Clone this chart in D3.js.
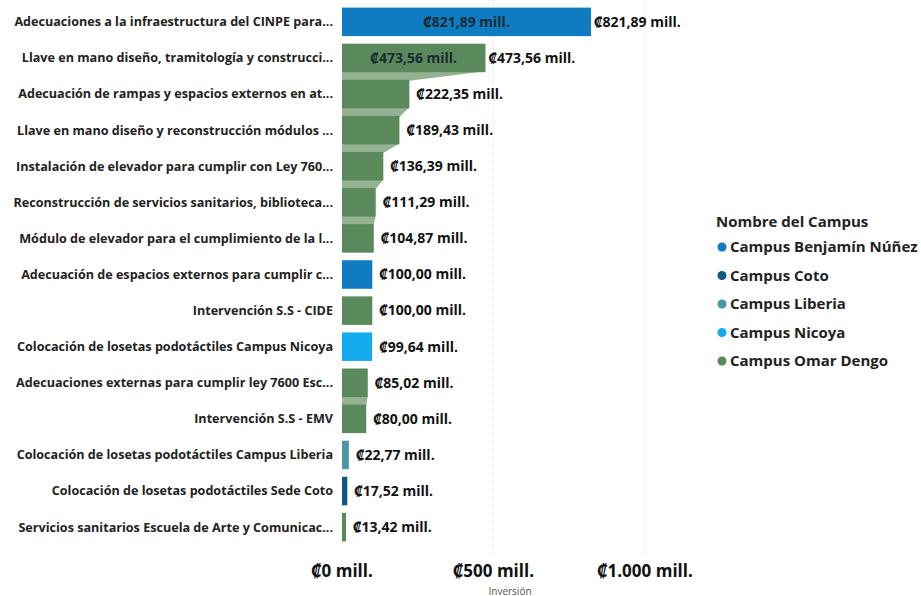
<html>
<head>
<script src="https://d3js.org/d3.v7.min.js"></script>
<style>
  body { margin: 0; background: white; }
  svg { font-family: "Open Sans", "Noto Sans", sans-serif; }
</style>
</head>
<body>
<svg width="921" height="596"></svg>
<script>
  // chart data
  var proyectos = [
    "Adecuaciones a la infraestructura del CINPE para...",
    "Llave en mano diseño, tramitología y construcci...",
    "Adecuación de rampas y espacios externos en at...",
    "Llave en mano diseño y reconstrucción módulos ...",
    "Instalación de elevador para cumplir con Ley 760...",
    "Reconstrucción de servicios sanitarios, biblioteca...",
    "Módulo de elevador para el cumplimiento de la l...",
    "Adecuación de espacios externos para cumplir c...",
    "Intervención S.S - CIDE",
    "Colocación de losetas podotáctiles Campus Nicoya",
    "Adecuaciones externas para cumplir ley 7600 Esc...",
    "Intervención S.S - EMV",
    "Colocación de losetas podotáctiles Campus Liberia",
    "Colocación de losetas podotáctiles Sede Coto",
    "Servicios sanitarios Escuela de Arte y Comunicac..."
  ];
  var inversion = [821.89, 473.56, 222.35, 189.43, 136.39, 111.29, 104.87, 100.00, 100.00, 99.64, 85.02, 80.00, 22.77, 17.52, 13.42];
  var campusDe = ["Campus Benjamín Núñez", "Campus Omar Dengo", "Campus Omar Dengo", "Campus Omar Dengo",
    "Campus Omar Dengo", "Campus Omar Dengo", "Campus Omar Dengo", "Campus Benjamín Núñez", "Campus Omar Dengo",
    "Campus Nicoya", "Campus Omar Dengo", "Campus Omar Dengo", "Campus Liberia", "Campus Coto", "Campus Omar Dengo"];
  var campus = ["Campus Benjamín Núñez", "Campus Coto", "Campus Liberia", "Campus Nicoya", "Campus Omar Dengo"];
  var colores = ["#0f7cc2", "#0d5a85", "#4d97a3", "#14acef", "#5a8a5c"];
  var ticks = [0, 500, 1000];

  var data = proyectos.map(function(p, i) { return {name: p, value: inversion[i], campus: campusDe[i]}; });

  var svg = d3.select("svg");
  var xs = d3.scaleLinear().domain([0, 1000]).range([342, 645]);
  var ys = d3.scaleBand().domain(d3.range(data.length)).range([4, 545]).paddingInner(0.21).paddingOuter(0.1);
  var color = d3.scaleOrdinal().domain(campus).range(colores);
  var fmt = function(v) { return "₡" + d3.format(",.2f")(v).replace(/,/g, "#").replace(".", ",").replace(/#/g, ".") + " mill."; };
  var inside = d => xs(d.value) - xs(0) > 120;

  // gridlines
  svg.append("g").selectAll("line").data(ticks.slice(1)).enter()
    .append("line")
    .attr("x1", d => xs(d)).attr("x2", d => xs(d))
    .attr("y1", 0).attr("y2", 556)
    .attr("stroke", "#d6d6d6").attr("stroke-dasharray", "1,3");

  // ribbons between neighbouring bars of the same campus
  var ribbons = [];
  for (var i = 0; i < data.length - 1; i++) {
    if (data[i].campus == data[i + 1].campus) ribbons.push([data[i], i, data[i + 1], i + 1]);
  }
  svg.append("g").selectAll("path").data(ribbons).enter()
    .append("path")
    .attr("d", function(r) {
      var yb = ys(r[1]) + ys.bandwidth() - 1, yt = ys(r[3]) + 1;
      return "M" + xs(0) + "," + yb + "L" + xs(r[0].value) + "," + yb +
        "L" + xs(r[2].value) + "," + yt + "L" + xs(0) + "," + yt + "Z";
    })
    .attr("fill", "#93b393");

  // bars
  svg.append("g").selectAll("rect").data(data).enter()
    .append("rect")
    .attr("x", xs(0))
    .attr("y", (d, i) => ys(i))
    .attr("width", d => xs(d.value) - xs(0))
    .attr("height", ys.bandwidth())
    .attr("fill", d => color(d.campus));

  // inside labels for the big bars
  svg.append("g").selectAll("text").data(data.filter(inside)).enter()
    .append("text")
    .attr("x", d => (xs(0) + xs(d.value)) / 2)
    .attr("y", d => ys(data.indexOf(d)) + ys.bandwidth() / 2)
    .attr("dy", "0.35em")
    .attr("text-anchor", "middle")
    .attr("font-size", "14px").attr("font-weight", "bold")
    .attr("fill", "#1c2a33")
    .text(d => fmt(d.value));

  // outside labels
  svg.append("g").selectAll("text").data(data).enter()
    .append("text")
    .attr("x", d => xs(d.value) + (inside(d) ? 3 : 7))
    .attr("y", (d, i) => ys(i) + ys.bandwidth() / 2)
    .attr("dy", "0.35em")
    .attr("font-size", "14px").attr("font-weight", "bold")
    .attr("fill", "#111")
    .text(d => fmt(d.value));

  // category labels
  svg.append("g").selectAll("text").data(data).enter()
    .append("text")
    .attr("x", 333)
    .attr("y", (d, i) => ys(i) + ys.bandwidth() / 2)
    .attr("dy", "0.35em")
    .attr("text-anchor", "end")
    .attr("font-size", "12.6px").attr("font-weight", "bold")
    .attr("fill", "#222")
    .text(d => d.name);

  // x axis
  svg.append("g").selectAll("text").data(ticks).enter()
    .append("text")
    .attr("x", d => xs(d))
    .attr("y", 571)
    .attr("dy", "0.35em")
    .attr("text-anchor", "middle")
    .attr("font-size", "17px").attr("font-weight", "bold")
    .attr("fill", "#111")
    .text(d => "₡" + d3.format(",")(d).replace(/,/g, ".") + " mill.");

  svg.append("text")
    .attr("x", 510).attr("y", 591)
    .attr("dy", "0.35em")
    .attr("text-anchor", "middle")
    .attr("font-size", "10px")
    .attr("fill", "#555")
    .text("Inversión");

  // legend
  var lg = svg.append("g").attr("transform", "translate(716,222)");
  lg.append("text")
    .attr("x", 0).attr("y", 0).attr("dy", "0.35em")
    .attr("font-size", "15px").attr("font-weight", "bold")
    .attr("fill", "#222")
    .text("Nombre del Campus");
  var items = lg.selectAll("g.item").data(campus).enter()
    .append("g").attr("class", "item")
    .attr("transform", (d, i) => "translate(0," + (25 + i * 28.5) + ")");
  items.append("circle").attr("cx", 6).attr("cy", 0).attr("r", 4.5).attr("fill", d => color(d));
  items.append("text")
    .attr("x", 14).attr("y", 0).attr("dy", "0.35em")
    .attr("font-size", "15px").attr("font-weight", "bold")
    .attr("fill", "#222")
    .text(d => d);
</script>
</body>
</html>
